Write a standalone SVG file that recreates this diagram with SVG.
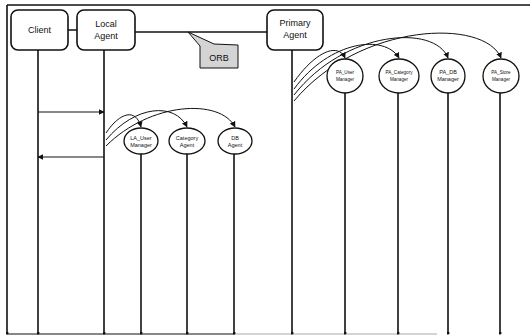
<svg xmlns="http://www.w3.org/2000/svg" width="530" height="336" viewBox="0 0 530 336">
<style>
.ln{stroke:#111;stroke-width:1.5;fill:none}
.lf{stroke:#111;stroke-width:1.6;fill:none;marker-end:url(#dot)}
.bx{fill:#fff;stroke:#111;stroke-width:1.6}
.el{fill:#fff;stroke:#111;stroke-width:1.3}
.cv{stroke:#111;stroke-width:1;fill:none;marker-end:url(#ah)}
.t{font-family:"Liberation Sans",Arial,sans-serif;fill:#111;text-anchor:middle}
.tb{font-size:9px}
.ts{font-size:5.5px}
.tp{font-size:4.6px}
</style>
<defs>
<marker id="ah" viewBox="0 0 10 10" refX="9" refY="5" markerWidth="6" markerHeight="6" orient="auto" markerUnits="userSpaceOnUse"><path d="M0,0 L10,5 L0,10 Z" fill="#111"/></marker>
<marker id="dot" viewBox="0 0 4 4" refX="2" refY="2" markerWidth="3" markerHeight="3" markerUnits="userSpaceOnUse"><circle cx="2" cy="2" r="2" fill="#111"/></marker>
</defs>
<rect width="530" height="336" fill="#fff"/>
<g id="frame">
<path class="ln" d="M7,5 L530,5"/>
<path class="lf" d="M7,5 L7,333"/>
<path d="M7,334 L235,334" stroke="#111" stroke-width="1.2"/>
<path d="M235,334 L437,334" stroke="#aaa" stroke-width="1.2"/>
</g>
<g id="connectors">
<path class="ln" d="M68,30 L77,30"/>
<path class="ln" d="M135,32 L267,32"/>
<path class="cv" d="M38,112 L104,112"/>
<path class="cv" d="M104,157 L38,157"/>
<path class="cv" d="M106,133 C120,112 136,108 141,127"/>
<path class="cv" d="M106,140 C135,105 175,102 187,127"/>
<path class="cv" d="M106,146 C150,102 220,98 235,127"/>
<path class="cv" d="M294,82 C315,52 338,42 345,58"/>
<path class="cv" d="M294,89 C330,40 385,34 399,58"/>
<path class="cv" d="M294,95 C345,30 435,24 448,58"/>
<path class="cv" d="M294,101 C360,22 485,18 501,58"/>
</g>
<g id="client">
<path class="lf" d="M38,50 L38,333"/>
<rect class="bx" x="11" y="10" width="57" height="40" rx="7"/>
<text class="t tb" x="39.5" y="33">Client</text>
</g>
<g id="local-agent">
<path class="lf" d="M104,50 L104,333"/>
<rect class="bx" x="77" y="10" width="58" height="40" rx="7"/>
<text class="t tb" x="106" y="27">Local</text>
<text class="t tb" x="106" y="39">Agent</text>
</g>
<g id="primary-agent">
<path class="lf" d="M292,50 L292,333"/>
<rect class="bx" x="267" y="10" width="56" height="40" rx="7"/>
<text class="t tb" x="295" y="26">Primary</text>
<text class="t tb" x="295" y="38">Agent</text>
</g>
<g id="orb">
<path d="M188,32 L214,44 L238,45 L238,68 L200,68 L200,46 Z" fill="#d4d4d4" stroke="#111" stroke-width="1"/>
<text class="t" x="219" y="61" font-size="9">ORB</text>
</g>
<g id="la-user-manager">
<path class="lf" d="M141,154 L141,333"/>
<ellipse class="el" cx="141" cy="141" rx="17" ry="13"/>
<text class="t ts" x="141" y="140">LA_User</text>
<text class="t ts" x="141" y="147">Manager</text>
</g>
<g id="category-agent">
<path class="lf" d="M187,154 L187,333"/>
<ellipse class="el" cx="187" cy="141" rx="18" ry="13"/>
<text class="t ts" x="187" y="140">Category</text>
<text class="t ts" x="187" y="147">Agent</text>
</g>
<g id="db-agent">
<path class="lf" d="M234,154 L234,333"/>
<ellipse class="el" cx="235" cy="141" rx="17" ry="13"/>
<text class="t ts" x="235" y="140">DB</text>
<text class="t ts" x="235" y="147">Agent</text>
</g>
<g id="pa-user-manager">
<path class="lf" d="M345,93 L345,333"/>
<ellipse class="el" cx="345" cy="76" rx="18" ry="17"/>
<text class="t tp" x="345" y="74">PA_User</text>
<text class="t tp" x="345" y="81">Manager</text>
</g>
<g id="pa-category-manager">
<path class="lf" d="M398,93 L398,333"/>
<ellipse class="el" cx="399" cy="76" rx="20" ry="17"/>
<text class="t tp" x="399" y="74">PA_Category</text>
<text class="t tp" x="399" y="81">Manager</text>
</g>
<g id="pa-db-manager">
<path class="lf" d="M448,93 L448,333"/>
<ellipse class="el" cx="448" cy="76" rx="17" ry="17"/>
<text class="t ts" x="448" y="74">PA_DB</text>
<text class="t ts" x="448" y="81">Manager</text>
</g>
<g id="pa-store-manager">
<path class="lf" d="M500,93 L500,333"/>
<ellipse class="el" cx="501" cy="76" rx="18" ry="17"/>
<text class="t tp" x="501" y="74">PA_Store</text>
<text class="t tp" x="501" y="81">Manager</text>
</g>
</svg>
